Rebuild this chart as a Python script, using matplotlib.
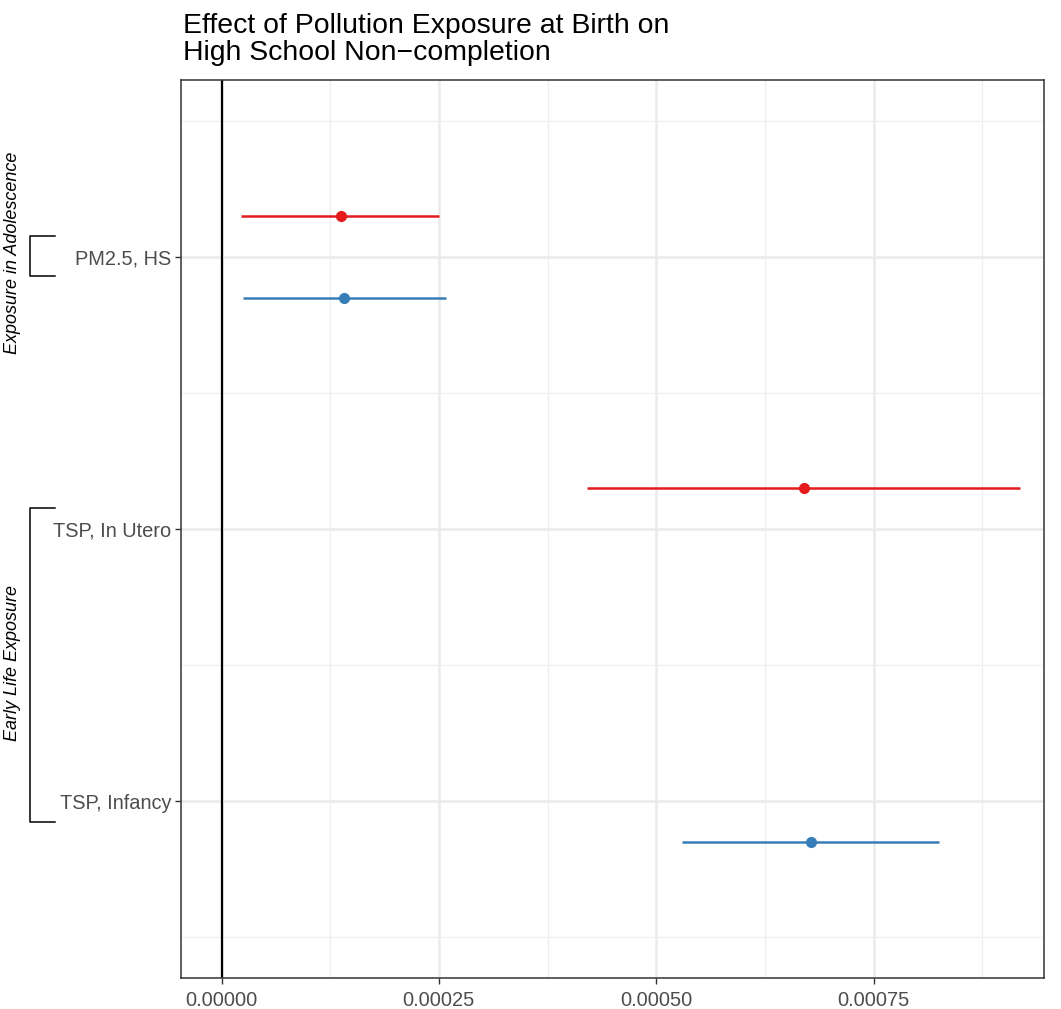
import matplotlib
matplotlib.use("Agg")
import matplotlib.pyplot as plt
from matplotlib.lines import Line2D

plt.rcParams['font.family'] = ['Liberation Sans', 'DejaVu Sans']

# exposure categories, top to bottom
categories = ["PM2.5, HS", "TSP, In Utero", "TSP, Infancy"]
groups = ["Exposure in Adolescence", "Early Life Exposure"]

# estimates (point, lower, upper) per series; None where missing
red_est = [1.371e-4, 6.698e-4, None]
red_lo = [2.21e-5, 4.208e-4, None]
red_hi = [2.506e-4, 9.187e-4, None]

blue_est = [1.413e-4, None, 6.779e-4]
blue_lo = [2.44e-5, None, 5.298e-4]
blue_hi = [2.583e-4, None, 8.251e-4]

xticks = [0.0, 0.00025, 0.0005, 0.00075]
xtick_labels = ["0.00000", "0.00025", "0.00050", "0.00075"]

RED = "#E41A1C"
BLUE = "#377EB8"
DODGE = 0.15

W, H = 1061, 1009
fig = plt.figure(figsize=(W / 100, H / 100), dpi=100)
ax = fig.add_axes([181 / W, (H - 978) / H, (1044 - 181) / W, (978 - 80) / H])

ypos = [len(categories) - i for i in range(len(categories))]

for est, lo, hi, col, off in [(red_est, red_lo, red_hi, RED, DODGE),
                              (blue_est, blue_lo, blue_hi, BLUE, -DODGE)]:
    for y, e, l, h in zip(ypos, est, lo, hi):
        if e is None:
            continue
        ax.plot([l, h], [y + off, y + off], color=col, lw=1.8,
                solid_capstyle='butt', zorder=3)
        ax.plot(e, y + off, 'o', color=col, ms=7, zorder=4)

ax.axvline(0, color='black', lw=1.6, zorder=2)

ax.set_xlim(-4.66e-5, 9.46e-4)
ax.set_ylim(0.35, 3.65)
ax.set_xticks(xticks)
ax.set_xticklabels(xtick_labels)
ax.set_yticks(ypos)
ax.set_yticklabels(categories)
ax.set_xticks([0.000125, 0.000375, 0.000625, 0.000875], minor=True)
ax.set_yticks([0.5, 1.5, 2.5, 3.5], minor=True)

ax.grid(True, which='major', color='#EBEBEB', lw=1.8, zorder=0)
ax.grid(True, which='minor', color='#EFEFEF', lw=0.9, zorder=0)
ax.set_axisbelow(True)
ax.tick_params(which='minor', length=0)
ax.tick_params(which='major', length=4, width=1.0, color='#333333',
               labelsize=14.4, labelcolor='#4D4D4D')
ax.tick_params(axis='x', pad=5)
ax.tick_params(axis='y', pad=3)
for s in ax.spines.values():
    s.set_color('#333333')
    s.set_linewidth(1.1)

# title
fig.text(183 / W, 1 - 33 / H, "Effect of Pollution Exposure at Birth on",
         fontsize=20.4, va='baseline', ha='left')
fig.text(183 / W, 1 - 60 / H, "High School Non\u2212completion",
         fontsize=20.4, va='baseline', ha='left')

# group brackets on the left
brackets = [(236, 276), (508, 822)]
label_y = [253, 663]
for (top, bot), g, ly in zip(brackets, groups, label_y):
    xs = [55 / W, 30 / W, 30 / W, 55 / W]
    ys = [1 - top / H, 1 - top / H, 1 - bot / H, 1 - bot / H]
    fig.add_artist(Line2D(xs, ys, color='black', lw=1.1,
                          transform=fig.transFigure))
    fig.text(12.5 / W, 1 - ly / H, g, rotation=90, style='italic',
             fontsize=13.0, va='center', ha='center')

fig.savefig("out.png", dpi=100, facecolor='white')
